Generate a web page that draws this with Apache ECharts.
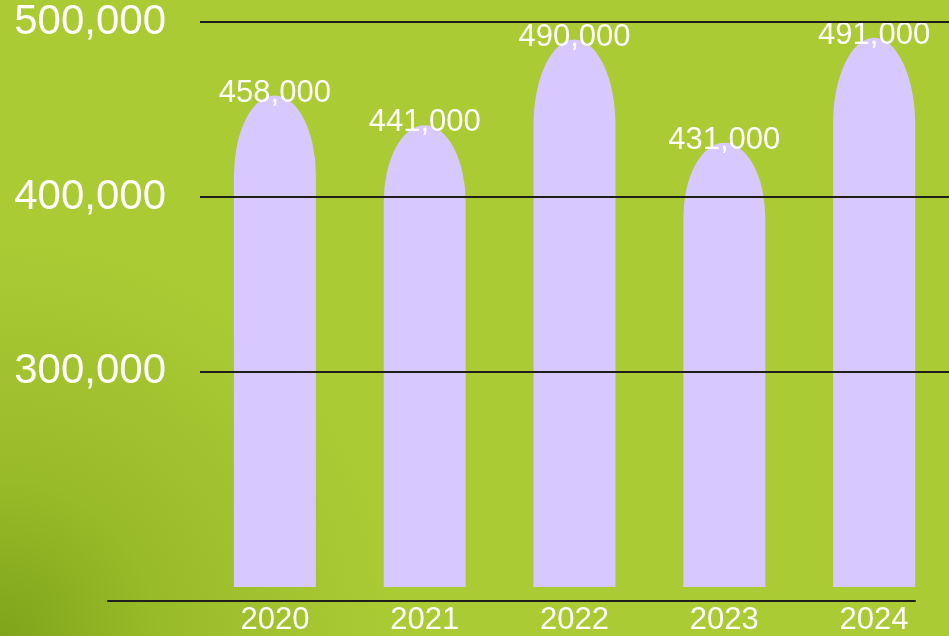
<!DOCTYPE html>
<html>
<head>
<meta charset="utf-8">
<script src="https://cdn.jsdelivr.net/npm/echarts@6/dist/echarts.min.js"></script>
<style>
  html, body { margin: 0; padding: 0; }
  #chart { width: 949px; height: 636px; }
</style>
</head>
<body>
<div id="chart"></div>
<script>
// 数据
const years = ['2020', '2021', '2022', '2023', '2024']
const values = [458000, 441000, 490000, 431000, 491000]
const yTicks = [300000, 400000, 500000]

const fontFamily = '"Liberation Sans", Arial, sans-serif'
const fmt = (v) => Number(v).toLocaleString('en-US')

// 圆顶柱子的形状（椭圆顶），柱子从 0 开始画，超出坐标系的部分裁掉
const archPath = 'path://M0 100 L0 10 A50 10 0 0 1 100 10 L100 100 Z'

const chart = echarts.init(document.getElementById('chart'))

const option = {
  backgroundColor: new echarts.graphic.RadialGradient(0, 1, 0.62, [
    { offset: 0, color: '#7fa41b' },
    { offset: 0.4, color: '#98bb28' },
    { offset: 1, color: '#abcb35' },
  ]),
  grid: [
    { left: 200, right: 0, top: 22, bottom: 49 },
    // 底部横线单独一个 grid
    { left: 108, right: 34, top: 100, bottom: 35 },
  ],
  xAxis: [
    {
      type: 'category',
      gridIndex: 0,
      data: years,
      axisLine: { show: false },
      axisTick: { show: false },
      axisLabel: {
        color: '#ffffff',
        fontSize: 31,
        fontFamily: fontFamily,
        margin: 18,
      },
    },
    {
      type: 'category',
      gridIndex: 1,
      data: years,
      axisLine: { show: true, lineStyle: { color: '#1e1e1a', width: 2 } },
      axisTick: { show: false },
      axisLabel: { show: false },
    },
  ],
  yAxis: [
    {
      type: 'value',
      gridIndex: 0,
      min: 177000,
      max: 500000,
      splitLine: { show: false },
      axisLine: { show: false },
      axisTick: { show: false },
      axisLabel: {
        customValues: yTicks,
        color: '#ffffff',
        fontSize: 42,
        fontFamily: fontFamily,
        margin: 34,
        formatter: fmt,
      },
    },
    {
      type: 'value',
      gridIndex: 1,
      show: false,
    },
  ],
  series: [
    {
      type: 'pictorialBar',
      xAxisIndex: 0,
      yAxisIndex: 0,
      data: values,
      symbol: archPath,
      symbolSize: [82, '100%'],
      symbolRepeat: false,
      symbolPosition: 'start',
      clip: true,
      itemStyle: { color: '#d7c8ff' },
      label: {
        show: true,
        position: 'top',
        distance: -13,
        color: '#ffffff',
        fontSize: 31,
        fontFamily: fontFamily,
        formatter: (p) => fmt(p.value),
      },
      markLine: {
        silent: true,
        symbol: 'none',
        label: { show: false },
        lineStyle: { color: '#1e1e1a', width: 2, type: 'solid' },
        data: yTicks.map((v) => ({ yAxis: v })),
      },
      z: 2,
    },
  ],
}

chart.setOption(option)
</script>
</body>
</html>
